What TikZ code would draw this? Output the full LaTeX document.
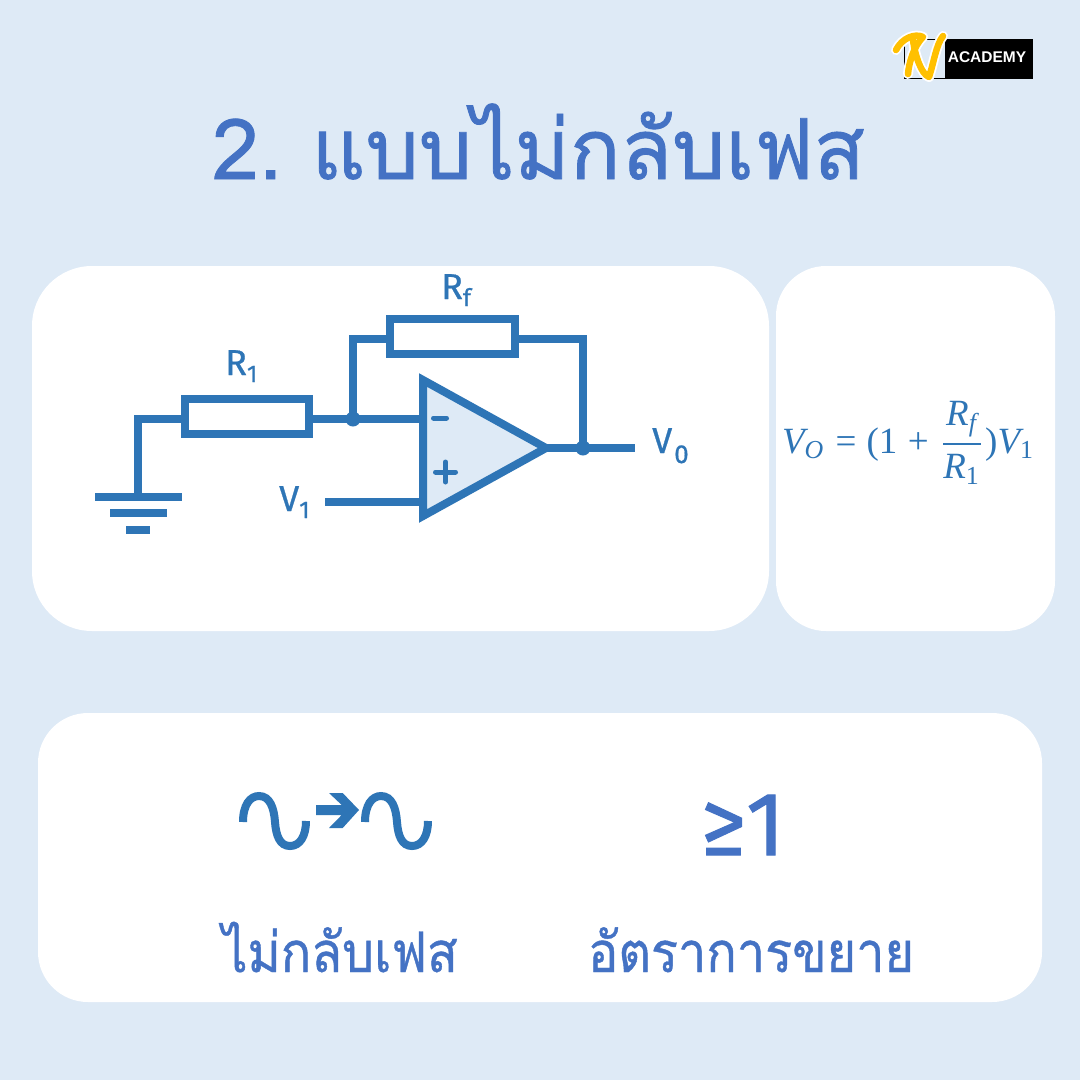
\documentclass[tikz,border=0pt]{standalone}
\usepackage{fontspec}
\setmainfont{Fira Sans}
\newfontfamily\labfont[FakeBold=0.7]{Fira Sans}
\newfontfamily\titlefont[Script=Thai,FakeBold=1.0,WordSpace=0.7]{Loma}
\newfontfamily\thaifont[Script=Thai,FakeBold=0.7,FakeStretch=0.9]{Loma}
\newfontfamily\logofont{Liberation Sans}
\newfontfamily\geqfont[FakeBold=1.2]{Fira Sans}
\newfontfamily\fmfont{Liberation Serif}
\definecolor{bgblue}{HTML}{DEEAF6}
\definecolor{wire}{HTML}{2E75B6}
\definecolor{head}{HTML}{4472C4}
\definecolor{gold}{HTML}{FFC000}
\newcommand{\fs}[1]{\fontsize{#1}{#1}\selectfont}
\newcommand{\fmi}[1]{\mbox{\fmfont\itshape #1}}
\newcommand{\fmr}[1]{\mbox{\fmfont #1}}
\newcommand{\fmsi}[1]{\mbox{\fmfont\itshape\fs{7}#1}}
\newcommand{\fmsr}[1]{\mbox{\fmfont\fs{7}#1}}
\tikzset{
  card/.style={fill=white,draw=none},
  wireline/.style={draw=wire,line width=8pt},
  resistor/.style={draw=wire,line width=8pt,fill=white,rectangle,outer sep=0pt,inner sep=0pt},
  junction/.style={circle,fill=wire,draw=none,minimum size=15pt,inner sep=0pt},
  lab/.style={text=wire,inner sep=0pt,anchor=base west,font=\labfont},
  thai/.style={text=head,inner sep=0pt,anchor=base},
}
\begin{document}
\begin{tikzpicture}[x=1pt,y=-1pt]
\useasboundingbox (0,0) rectangle (1080,1080);
\fill[bgblue] (0,0) rectangle (1080,1080);
% logo
\fill[black] (945,38.5) rectangle (1033,79);
\draw[black,line width=1pt] (904.5,39) rectangle (945,78.5);
\node[text=white,inner sep=0pt] (academy) at (987,57.5) {\logofont\bfseries\fs{15.5}ACADEMY};
\foreach \c/\w in {white/10,gold/6.5}{
  \draw[\c,line width=\w pt,line cap=round,line join=round]
    (896,50) .. controls (902,38) and (915,33) .. (923,37) .. controls (914,46) and (909,62) .. (908,74);
  \draw[\c,line width=\w pt,line cap=round,line join=round]
    (913,40) .. controls (915,55) and (921,74) .. (929,77) .. controls (934,62) and (936,45) .. (943,36);
}
% cards
\fill[card,rounded corners=60pt] (32,266) rectangle (769,631);
\fill[card,rounded corners=50pt] (776,266) rectangle (1055,631);
\fill[card,rounded corners=50pt] (38,713) rectangle (1042,1002);
% title
\node[thai,anchor=base] (title) at (538.5,179) {\titlefont\fs{84}2. แบบไม่กลับเฟส};
% circuit
\node[resistor,minimum width=124pt,minimum height=35pt] (R1) at (247,416.5) {};
\node[resistor,minimum width=125pt,minimum height=35pt] (Rf) at (452.5,336.5) {};
\coordinate (gt) at (138,419);
\coordinate (n1) at (353,419);
\coordinate (n2) at (583,448);
\coordinate (fbl) at (353,339);
\coordinate (fbr) at (583,339);
\coordinate (gnd) at (138,497);
\coordinate (inm) at (423,419);
\coordinate (inp) at (423,502);
\coordinate (vin) at (325,502);
\coordinate (tip) at (546,448);
\coordinate (vout) at (635,448);
\draw[wireline] (gnd) -- (gt) -- (R1.west |- gt);
\draw[wireline] (R1.east |- n1) -- (inm);
\draw[wireline] (n1) -- (fbl) -- (Rf.west |- fbl);
\draw[wireline] (Rf.east |- fbr) -- (fbr) -- (n2);
\draw[wireline] (tip) -- (vout);
\draw[wireline] (vin) -- (inp);
\draw[draw=wire,line width=8pt,fill=bgblue,miter limit=10] (423,380) -- (tip) -- (423,516) -- cycle;
\draw[wire,line width=5pt,line cap=round] (433.5,418) -- (446.5,418);
\draw[wire,line width=5pt,line cap=round] (435.5,472) -- (455.5,472) (445.5,462) -- (445.5,482);
\node[junction] (j1) at (n1) {};
\node[junction] (j2) at (n2) {};
\draw[wire,line width=8pt] (95,497) -- (182,497) (110,513) -- (167,513) (126,530) -- (150,530);
% labels
\node[lab] (lr1) at (225,375) {\fs{36}R\raisebox{-7pt}{\fs{24}1}};
\node[lab] (lrf) at (441,299) {\fs{36}R\raisebox{-7pt}{\fs{24}f}};
\node[lab] (lv1) at (279,511) {\fs{36}V\raisebox{-7pt}{\fs{24}1}};
\node[lab] (lvo) at (652,453) {\fs{36}V\hspace{2pt}\raisebox{-10pt}{\fs{26}0}};
% formula
\node[text=wire,inner sep=0pt] (formula) at (908.5,443) {\scalebox{3.7}{$\displaystyle \fmi{V}_{\fmsi{O}}\;\fmr{=}\;\fmr{(1}\;\fmr{+}\;{\fmi{R}_{\fmsi{f}}\above0.55pt\fmi{R}_{\fmsr{1}}}\fmr{)}\fmi{V}_{\fmsr{1}}$}};
% sine arrow sine
\foreach \d in {0,122}{
  \draw[wire,line width=8pt] (243+\d,822) .. controls (243+\d,805) and (250+\d,796) .. (259+\d,796)
    .. controls (270+\d,796) and (274+\d,808) .. (275+\d,822)
    .. controls (276+\d,836) and (280+\d,846) .. (290+\d,846)
    .. controls (300+\d,846) and (306+\d,836) .. (306+\d,821);
}
\fill[wire] (316,805) -- (341.7,805) -- (329,793) -- (342.7,793) -- (359,810) -- (342.7,828) -- (329,828) -- (341.7,815) -- (316,815) -- cycle;
\node[text=head,inner sep=0pt,anchor=base] (gain) at (743,855) {\geqfont\fs{90}≥1};
\node[thai] (t1) at (340,972) {\thaifont\fs{56}ไม่กลับเฟส};
\node[thai] (t2) at (751,972) {\thaifont\fs{56}อัตราการขยาย};
\end{tikzpicture}
\end{document}
